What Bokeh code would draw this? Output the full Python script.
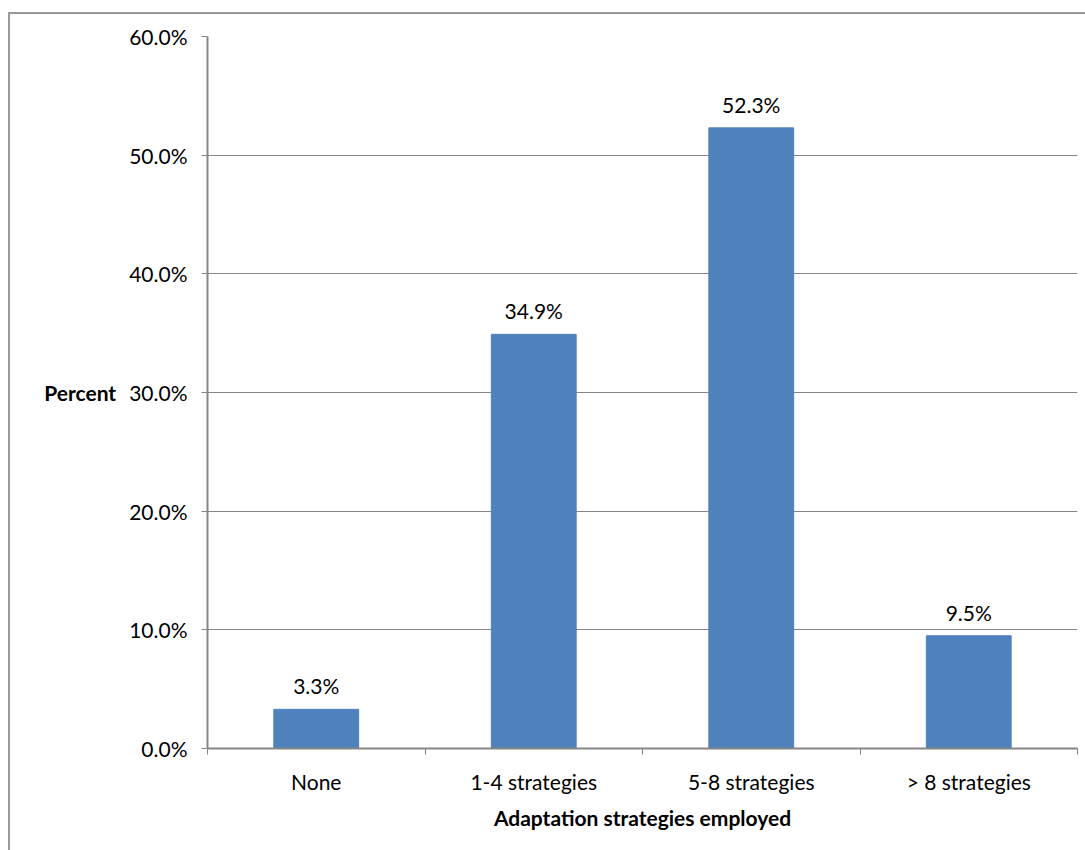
from bokeh.plotting import figure
from bokeh.models import ColumnDataSource, FixedTicker, PrintfTickFormatter, Range1d, LabelSet
from bokeh.core.properties import value
from bokeh.embed import file_html
from bokeh.resources import INLINE

categories = ["None", "1-4 strategies", "5-8 strategies", "> 8 strategies"]
percent = [3.3, 34.9, 52.3, 9.5]
y_ticks = [0, 10, 20, 30, 40, 50, 60]

xpos = [i + 0.5 for i in range(len(categories))]
src = ColumnDataSource(dict(x=xpos, top=percent, lab=["%.1f%%" % v for v in percent]))

FONT = "Lato"
FS = "21px"
GREY = "#868686"

p = figure(width=1077, height=838, output_backend="svg", toolbar_location=None,
           x_range=Range1d(0, 4), y_range=Range1d(0, 60),
           min_border_left=197, min_border_top=22, min_border_right=10, min_border_bottom=104)
p.margin = (12, 0, 0, 8)
p.styles = {"border-left": "2px solid #999999", "border-top": "2px solid #999999"}
p.outline_line_color = None

p.vbar(x="x", top="top", width=0.39, source=src, fill_color="#4F81BD", line_color="#4F81BD")
p.add_layout(LabelSet(x="x", y="top", text="lab", source=src, text_align="center",
                      text_baseline="bottom", y_offset=11, text_font=value(FONT),
                      text_font_size=FS, text_color="#000000"))

# y axis
p.yaxis.ticker = FixedTicker(ticks=y_ticks, minor_ticks=[])
p.yaxis.formatter = PrintfTickFormatter(format="%.1f%%")
p.yaxis.major_label_text_font = FONT
p.yaxis.major_label_text_font_size = FS
p.yaxis.major_label_text_color = "#000000"
p.yaxis.major_tick_out = 6
p.yaxis.major_tick_in = 0
p.yaxis.major_tick_line_color = GREY
p.yaxis.axis_line_color = GREY
p.yaxis.axis_line_width = 2
p.yaxis.major_label_standoff = 14
p.yaxis.axis_label = "Percent"
p.yaxis.axis_label_orientation = "horizontal"
p.yaxis.axis_label_text_font = FONT
p.yaxis.axis_label_text_font_style = "bold"
p.yaxis.axis_label_text_font_size = FS
p.yaxis.axis_label_text_color = "#000000"
p.yaxis.axis_label_standoff = 10

# x axis
p.xaxis.ticker = FixedTicker(ticks=xpos, minor_ticks=[0, 1, 2, 3, 4])
p.xaxis.major_label_overrides = {xv: c for xv, c in zip(xpos, categories)}
p.xaxis.major_tick_line_color = None
p.xaxis.minor_tick_out = 6
p.xaxis.minor_tick_in = 0
p.xaxis.minor_tick_line_color = GREY
p.xaxis.axis_line_color = GREY
p.xaxis.axis_line_width = 2
p.xaxis.major_label_text_font = FONT
p.xaxis.major_label_text_font_size = FS
p.xaxis.major_label_text_color = "#000000"
p.xaxis.major_label_standoff = 14
p.xaxis.axis_label = "Adaptation strategies employed"
p.xaxis.axis_label_text_font = FONT
p.xaxis.axis_label_text_font_style = "bold"
p.xaxis.axis_label_text_font_size = FS
p.xaxis.axis_label_text_color = "#000000"
p.xaxis.axis_label_standoff = 8

p.xgrid.grid_line_color = None
p.ygrid.grid_line_color = GREY
p.ygrid.grid_line_width = 1
p.ygrid.ticker = FixedTicker(ticks=y_ticks)

open("out.html", "w").write(file_html(p, INLINE))
